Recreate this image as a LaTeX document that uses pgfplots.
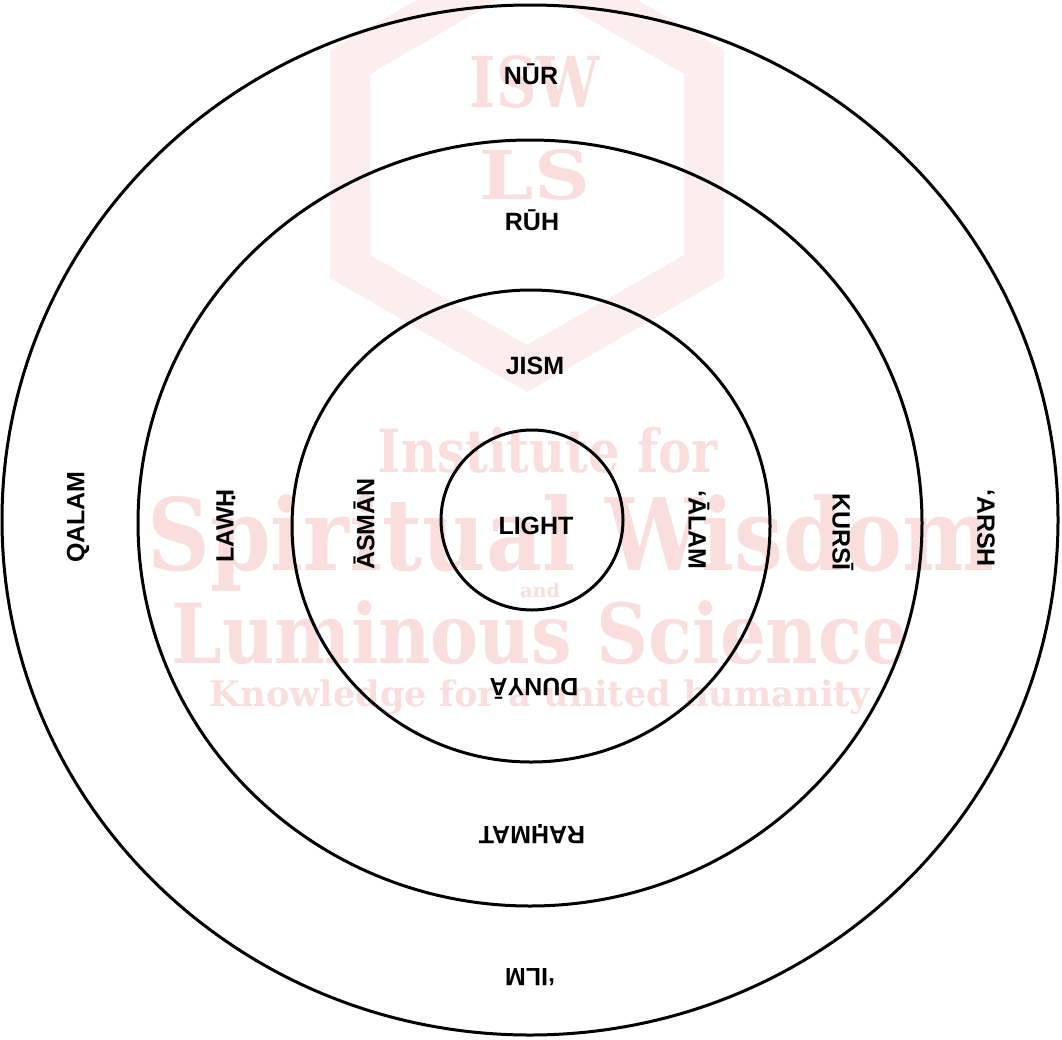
\documentclass[border=0pt]{standalone}
\usepackage{pgfplots}
\pgfplotsset{compat=1.18}
\usepackage{fontspec}
\setmainfont{Liberation Sans}
\newfontfamily\wm{DejaVu Serif Bold}
\definecolor{wmtext}{HTML}{FADEDE}
\definecolor{wmhex}{HTML}{FCEEEE}
\newcommand{\Hd}{\leavevmode\vtop{\offinterlineskip\halign{\hfil##\hfil\cr H\cr\noalign{\kern-2bp}.\cr}}}
\begin{document}
\begin{tikzpicture}
\begin{axis}[x=1bp,y=1bp,xmin=0,xmax=1062,ymin=0,ymax=1040,y dir=reverse,
  hide axis,clip=true,scale only axis]
\fill[white] (axis cs:0,0) rectangle (axis cs:1062,1040);
% watermark
\fill[wmhex,even odd rule]
  (axis cs:527,-64) -- (axis cs:724,50) -- (axis cs:724,278) -- (axis cs:527,392) -- (axis cs:330,278) -- (axis cs:330,50) -- cycle
  (axis cs:527,-17) -- (axis cs:684,74) -- (axis cs:684,255) -- (axis cs:527,345) -- (axis cs:370,255) -- (axis cs:370,74) -- cycle;
\node[wmtext,font=\wm] at (axis cs:535,82) {\resizebox{130bp}{52bp}{ISW}};
\node[wmtext,font=\wm] at (axis cs:535,175) {\resizebox{110bp}{50bp}{LS}};
\node[wmtext,font=\wm] at (axis cs:548,450) {\scalebox{1}[1.2]{\resizebox{340bp}{!}{Institute for}}};
\node[wmtext,font=\wm] at (axis cs:571,543) {\scalebox{1}[1.15]{\resizebox{847bp}{!}{Spiritual Wisdom}}};
\node[wmtext,font=\wm] at (axis cs:540,590) {\resizebox{40bp}{!}{and}};
\node[wmtext,font=\wm] at (axis cs:540,633) {\scalebox{1}[1.15]{\resizebox{736bp}{!}{Luminous Science}}};
\node[wmtext,font=\wm] at (axis cs:540,697) {\resizebox{660bp}{!}{Knowledge for a united humanity}};
% circles
\draw[line width=3bp] (axis cs:530,520) ellipse [x radius=528, y radius=515];
\draw[line width=3bp] (axis cs:530,523) ellipse [x radius=392, y radius=383];
\draw[line width=3bp] (axis cs:531,526) ellipse [x radius=239, y radius=236];
\draw[line width=3bp] (axis cs:532,520) ellipse [x radius=91, y radius=90];
% labels
\begin{scope}[every node/.style={font=\fontsize{25bp}{30bp}\selectfont\bfseries}]
\node at (axis cs:531,74) {NŪR};
\node at (axis cs:532,220) {RŪH};
\node at (axis cs:535,366) {JISM};
\node at (axis cs:536,526) {LIGHT};
\node[rotate=90] at (axis cs:78,517) {QALAM};
\node[rotate=90] at (axis cs:226,526) {LAW\Hd};
\node[rotate=90] at (axis cs:364,524) {ĀSMĀN};
\node[rotate=-90] at (axis cs:699,530) {‘ĀLAM};
\node[rotate=-90] at (axis cs:843,532) {KURSĪ};
\node[rotate=-90] at (axis cs:986,528) {‘ARSH};
\node[rotate=180] at (axis cs:534,689) {DUNYĀ};
\node[rotate=180] at (axis cs:532,834) {RA\Hd MAT};
\node[rotate=180] at (axis cs:530,977) {‘ILM};
\end{scope}
\end{axis}
\end{tikzpicture}
\end{document}
